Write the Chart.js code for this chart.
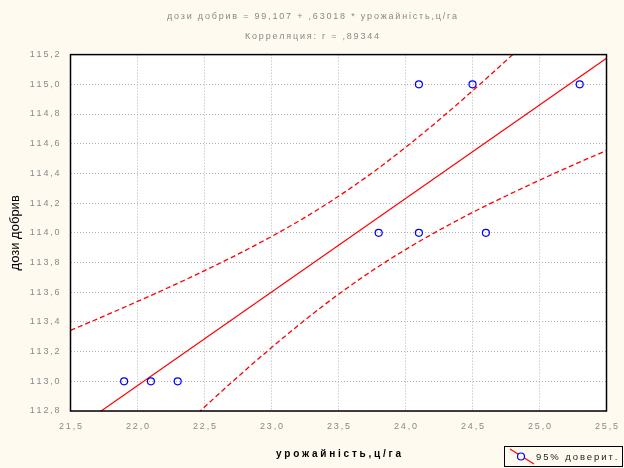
<!DOCTYPE html>
<html>
<head>
<meta charset="utf-8">
<script src="https://cdn.jsdelivr.net/npm/chart.js@4.4.1/dist/chart.umd.min.js"></script>
<style>
  html, body { margin: 0; padding: 0; background: #FFFAF0; }
  #wrap { position: relative; width: 624px; height: 468px; }
  #legend {
    position: absolute; left: 504px; top: 446px; width: 117px; height: 19px;
    border: 1px solid #000; box-sizing: content-box;
    font-family: 'Liberation Sans', sans-serif; font-size: 9.5px; color: #222;
    white-space: pre; line-height: 19px;
  }
  #legend svg { position: absolute; left: 0; top: 0; }
  #legend span { position: absolute; left: 31px; top: 0; }
</style>
</head>
<body>
<div id="wrap">
  <canvas id="c"></canvas>
  <div id="legend">
    <svg width="32" height="19"><line x1="5" y1="2" x2="29" y2="17" stroke="#ff0000" stroke-width="1.2"/><circle cx="16" cy="9.5" r="3.5" fill="#FFFAF0" stroke="#0000ff" stroke-width="1.2"/></svg>
    <span id="legendText"></span>
  </div>
</div>
<script>
// ---- data ----
const xVals = [21.9, 22.1, 22.3, 23.8, 24.1, 24.1, 24.5, 24.6, 25.3];
const yVals = [113.0, 113.0, 113.0, 114.0, 114.0, 115.0, 115.0, 114.0, 115.0];
const fitX = [21.5, 25.5];
const fitY = [112.656, 115.176];
const bandX = [21.5, 21.75, 22.0, 22.25, 22.5, 22.75, 23.0, 23.25, 23.5, 23.75, 24.0, 24.25, 24.5, 24.75, 25.0, 25.25, 25.5];
const bandUpper = [113.343, 113.439, 113.538, 113.639, 113.745, 113.856, 113.975, 114.104, 114.246, 114.403, 114.575, 114.760, 114.956, 115.159, 115.368, 115.582, 115.798];
const bandLower = [111.968, 112.187, 112.404, 112.618, 112.827, 113.031, 113.227, 113.413, 113.586, 113.744, 113.887, 114.017, 114.137, 114.248, 114.354, 114.456, 114.554];
const xTickValues = [21.5, 22.0, 22.5, 23.0, 23.5, 24.0, 24.5, 25.0, 25.5];
const yTickValues = [112.8, 113.0, 113.2, 113.4, 113.6, 113.8, 114.0, 114.2, 114.4, 114.6, 114.8, 115.0, 115.2];
const titleLines = ['дози добрив = 99,107 + ,63018 * урожайність,ц/га', 'Корреляция: r = ,89344'];
const xTitle = 'урожайність,ц/га';
const yTitle = 'дози добрив';
const legendLabel = '95% доверит.';

const THIN = '\u2009';
const spread = s => Array.from(s).join(' ');
const spreadThin = s => Array.from(s).join(THIN);
const fmt = v => spreadThin(v.toFixed(1).replace('.', ','));
const SANS = "'Liberation Sans', sans-serif";

document.getElementById('legendText').textContent = spreadThin(legendLabel);

const pts = (xs, ys) => xs.map((x, i) => ({x: x, y: ys[i]}));

const plotFrame = {
  id: 'plotFrame',
  beforeDraw(chart) {
    const a = chart.chartArea, ctx = chart.ctx;
    ctx.save();
    ctx.fillStyle = '#ffffff';
    ctx.fillRect(a.left, a.top, a.right - a.left, a.bottom - a.top);
    ctx.restore();
  },
  afterDraw(chart) {
    const a = chart.chartArea, ctx = chart.ctx;
    ctx.save();
    ctx.strokeStyle = '#000';
    ctx.lineWidth = 1.5;
    ctx.strokeRect(a.left, a.top, a.right - a.left, a.bottom - a.top);
    ctx.restore();
  }
};

new Chart(document.getElementById('c'), {
  type: 'scatter',
  data: {
    datasets: [
      { data: pts(xVals, yVals), showLine: false, pointStyle: 'circle', pointRadius: 3.5,
        borderColor: '#0000ff', backgroundColor: 'rgba(0,0,0,0)', borderWidth: 1.2, pointHoverRadius: 3.5, order: 0 },
      { data: pts(fitX, fitY), showLine: true, pointRadius: 0, borderColor: '#ff0000', borderWidth: 1.2, order: 1 },
      { data: pts(bandX, bandUpper), showLine: true, pointRadius: 0, borderColor: '#ff0000', borderWidth: 1.3,
        borderDash: [5, 3], cubicInterpolationMode: 'monotone', order: 2 },
      { data: pts(bandX, bandLower), showLine: true, pointRadius: 0, borderColor: '#ff0000', borderWidth: 1.3,
        borderDash: [5, 3], cubicInterpolationMode: 'monotone', order: 3 }
    ]
  },
  options: {
    responsive: true,
    maintainAspectRatio: false,
    animation: false,
    layout: { padding: { left: 0, right: 0, top: 0, bottom: 0 } },
    plugins: {
      legend: { display: false },
      tooltip: { enabled: false },
      title: {
        display: true,
        text: titleLines.map(spreadThin),
        color: '#888888',
        font: { family: SANS, size: 9, weight: 'normal', lineHeight: 2.2 },
        padding: { top: 7, bottom: 8 }
      }
    },
    scales: {
      x: {
        type: 'linear', min: 21.5, max: 25.5,
        afterBuildTicks: s => { s.ticks = xTickValues.map(v => ({value: v})); },
        afterFit: s => { s.height = 57; s.paddingLeft = 0; s.paddingRight = 0; },
        grid: { color: '#b4b4b4', lineWidth: 1, drawTicks: false },
        border: { display: false, dash: [1, 2] },
        ticks: { callback: v => fmt(v), color: '#888888', padding: 10, maxRotation: 0,
                 font: { family: SANS, size: 9 } },
        title: { display: true, text: spread(xTitle), color: '#000',
                 font: { family: SANS, size: 10, weight: 'bold' },
                 padding: { top: 0, bottom: 8 } }
      },
      y: {
        type: 'linear', min: 112.8, max: 115.2,
        afterBuildTicks: s => { s.ticks = yTickValues.map(v => ({value: v})); },
        afterFit: s => { s.width = 70.5; },
        grid: { color: '#b4b4b4', lineWidth: 1, drawTicks: false },
        border: { display: false, dash: [1, 2] },
        ticks: { callback: v => fmt(v), color: '#888888', padding: 11,
                 font: { family: SANS, size: 9 } },
        title: { display: true, text: yTitle, color: '#000',
                 font: { family: SANS, size: 13 },
                 padding: { top: 8, bottom: 0 } }
      },
      y2: {
        type: 'linear', position: 'right', min: 0, max: 1,
        afterFit: s => { s.width = 17.5; },
        grid: { display: false, drawOnChartArea: false },
        border: { display: false },
        ticks: { display: false }
      }
    }
  },
  plugins: [plotFrame]
});
</script>
</body>
</html>
